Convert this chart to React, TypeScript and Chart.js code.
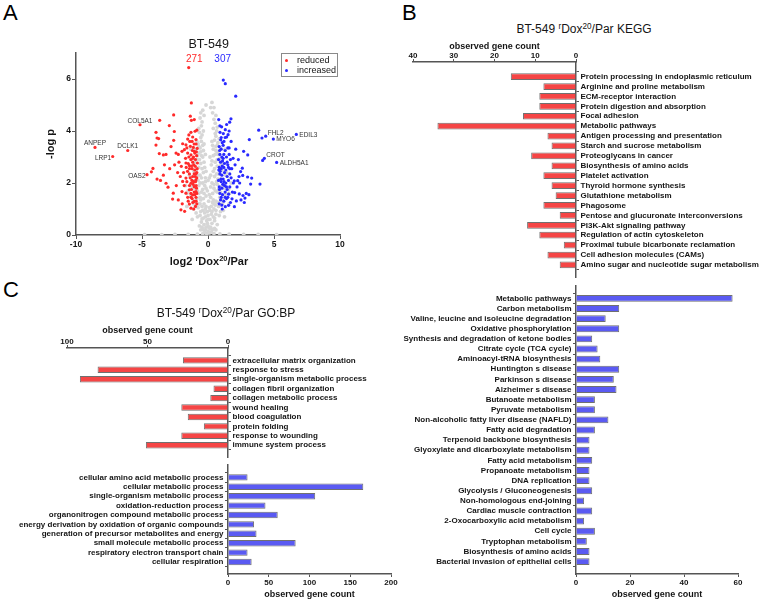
import React, { useEffect, useRef } from "react";
import { Chart, registerables } from "chart.js";

Chart.register(...registerables);

const FONT = "'Liberation Sans', Arial, Helvetica, sans-serif";
const AXIS = "#555555";
const TEXT = "#151515";
const RED = "#ff2a2a";
const BLUE = "#2a2aff";
const BAR_RED = "#f54545";
const BAR_BLUE = "#5a5af2";

// ---------------- Panel A: volcano data ----------------
const REDUCED_COUNT = "271";
const INCREASED_COUNT = "307";
const VOLCANO_X_TICKS = [-10, -5, 0, 5, 10];
const VOLCANO_Y_TICKS = [0, 2, 4, 6];

const REDUCED_POINTS: [number, number][] = [
  [-8.56, 3.37], [-7.22, 3.02], [-6.08, 3.25], [-5.15, 4.24], [-4.62, 2.32],
  [-1.46, 6.44], [-1.26, 5.08], [-2.6, 4.62], [-3.66, 4.41], [-1.26, 4.41], [-1.34, 4.57], [-1.04, 4.44],
  [-2.93, 4.21], [-3.94, 3.95], [-2.55, 3.98], [-1.29, 3.95], [-0.98, 3.99], [-0.85, 4.03], [-3.86, 3.73],
  [-3.74, 3.71], [-2.6, 3.64], [-1.54, 3.69], [-1.16, 3.77], [-0.91, 3.67], [-3.94, 3.46], [-1.92, 3.51],
  [-1.67, 3.47], [-1.34, 3.41], [-1.11, 3.37], [-0.82, 3.33], [-3.69, 3.13], [-3.38, 3.08], [-3.18, 3.1],
  [-2.42, 3.15], [-2.25, 3.1], [-1.97, 3.22], [-1.79, 3.28], [-1.54, 3.15], [-1.29, 3.08], [-1.04, 3.22],
  [-0.86, 3.05], [-2.53, 2.7], [-2.02, 2.64], [-1.67, 2.77], [-1.41, 2.67], [-1.16, 2.8], [-0.96, 2.64],
  [-0.8, 2.77], [-4.17, 2.56], [-4.29, 2.43], [-3.38, 2.3], [-3.86, 2.15], [-3.18, 1.99], [-3.03, 1.84],
  [-2.1, 2.25], [-1.92, 2.06], [-1.67, 2.19], [-1.41, 2.35], [-1.16, 2.25], [-0.91, 2.12], [-1.29, 1.99],
  [-1.04, 1.86], [-1.97, 1.67], [-1.67, 1.61], [-1.41, 1.74], [-1.16, 1.54], [-0.91, 1.67], [-2.63, 1.61],
  [-2.68, 1.38], [-2.05, 0.97], [-1.77, 0.91], [-1.41, 1.19], [-1.29, 1.03], [-1.04, 1.29], [-0.91, 1.45],
  [-1.54, 1.45], [-1.29, 1.45], [-1.0, 2.5], [-0.85, 2.4], [-1.2, 2.55], [-1.1, 3.0], [-0.95, 2.9],
  [-1.3, 2.9], [-1.45, 3.0], [-0.9, 1.9], [-1.1, 2.05], [-1.25, 1.75], [-0.85, 1.6], [-1.05, 1.65],
  [-1.35, 2.2], [-1.55, 2.45], [-1.7, 2.95], [-1.85, 2.4], [-2.2, 2.8], [-2.3, 2.4], [-1.8, 1.9],
  [-2.4, 1.9], [-0.95, 1.1], [-1.15, 1.25], [-1.5, 1.3], [-0.9, 3.5], [-1.2, 3.6], [-1.45, 3.85],
  [-1.0, 3.15], [-0.85, 2.2], [-1.05, 2.35], [-1.25, 2.65], [-0.95, 2.05], [-1.4, 2.55], [-1.6, 2.05],
  [-0.9, 1.3], [-1.2, 1.4], [-2.8, 3.4], [-3.3, 2.7], [-2.9, 2.55], [-3.6, 2.1], [-2.25, 1.35], [-1.95, 1.2],
  [-1.05, 3.5], [-0.88, 3.2], [-1.18, 3.25], [-1.38, 3.6], [-0.82, 2.55], [-0.98, 2.25], [-1.12, 1.95],
  [-0.87, 1.8], [-1.3, 1.6], [-1.0, 1.55], [-1.15, 2.95], [-1.5, 2.75], [-0.92, 2.35], [-1.08, 2.7],
  [-1.22, 2.1], [-1.4, 1.9], [-1.65, 2.6], [-0.85, 1.2], [-1.08, 1.0], [-1.6, 3.35],
];

const INCREASED_POINTS: [number, number][] = [
  [1.16, 5.96], [1.31, 5.82], [2.1, 5.34], [0.81, 4.44], [1.74, 4.47], [1.64, 4.34], [1.41, 4.25],
  [1.03, 4.16], [1.31, 4.05], [0.91, 3.95], [1.16, 3.9], [1.52, 3.86], [1.41, 3.77], [0.96, 3.66],
  [1.21, 3.6], [3.84, 4.03], [4.37, 3.8], [4.09, 3.73], [3.13, 3.67], [6.69, 3.87], [4.95, 3.69],
  [2.7, 3.22], [3.01, 3.08], [4.27, 2.95], [4.14, 2.87], [5.2, 2.79], [2.6, 2.57], [2.47, 2.44],
  [2.35, 2.25], [2.63, 2.29], [3.0, 2.23], [3.31, 2.19], [1.99, 2.08], [2.25, 2.09], [3.23, 1.96],
  [3.94, 1.96], [1.92, 2.0], [1.56, 1.57], [2.02, 1.63], [2.37, 1.58], [2.65, 1.52], [1.82, 1.39],
  [2.15, 1.31], [2.5, 1.35], [2.8, 1.42], [1.31, 1.09], [1.56, 1.14], [2.0, 1.09], [0.85, 3.4],
  [1.0, 3.3], [1.15, 3.45], [1.3, 3.25], [1.5, 3.35], [0.9, 3.1], [1.05, 3.0], [1.2, 3.1], [1.4, 3.0],
  [1.6, 3.1], [0.8, 2.9], [0.95, 2.8], [1.1, 2.85], [1.25, 2.75], [1.45, 2.8], [1.7, 2.9], [1.9, 2.95],
  [0.85, 2.6], [1.0, 2.55], [1.2, 2.6], [1.35, 2.5], [1.55, 2.6], [1.8, 2.55], [2.05, 2.7], [0.9, 2.35],
  [1.05, 2.3], [1.25, 2.4], [1.45, 2.25], [1.65, 2.35], [0.8, 2.1], [1.0, 2.05], [1.15, 2.15],
  [1.35, 2.0], [1.55, 2.1], [1.75, 2.2], [0.85, 1.85], [1.05, 1.8], [1.25, 1.9], [1.45, 1.75],
  [1.65, 1.85], [0.9, 1.6], [1.1, 1.55], [1.3, 1.65], [1.5, 1.45], [0.95, 1.35], [1.2, 1.3], [1.4, 1.4],
  [1.05, 1.15], [2.2, 1.85], [2.4, 2.0], [1.85, 1.65], [2.9, 1.6], [3.1, 1.55], [2.75, 1.25], [1.7, 1.25],
  [2.3, 2.9], [2.1, 3.3], [1.75, 3.6], [1.0, 3.75], [1.6, 4.0],
  [0.88, 3.25], [1.08, 3.55], [0.82, 2.5], [0.98, 2.15], [1.12, 1.95], [0.87, 1.75], [1.3, 1.45],
  [1.0, 1.45], [1.15, 2.95], [1.5, 2.7], [0.92, 2.45], [1.08, 2.65], [1.22, 2.05], [1.4, 1.85],
  [1.65, 2.55], [0.85, 1.2], [1.08, 1.0], [1.6, 3.35], [1.3, 3.75], [0.9, 4.2],
];

const UNCHANGED_POINTS: [number, number][] = [
  [-0.1, 0.05], [0.1, 0.08], [0.0, 0.15], [-0.25, 0.1], [0.25, 0.12], [-0.4, 0.05], [0.45, 0.06],
  [-0.8, 0.03], [0.9, 0.04], [-1.5, 0.02], [1.6, 0.03], [-2.5, 0.02], [2.7, 0.02], [-3.5, 0.01],
  [3.8, 0.02], [-4.8, 0.01], [5.2, 0.01], [0.15, 0.25], [-0.15, 0.3], [-0.3, 0.4], [0.3, 0.45],
  [-0.5, 0.5], [0.5, 0.55], [0.0, 0.35], [-0.1, 0.55], [0.15, 0.6], [-0.65, 0.35], [0.7, 0.4],
  [-0.2, 0.7], [0.25, 0.8], [-0.6, 0.75], [0.6, 0.8], [-0.9, 0.85], [0.95, 0.9], [-0.4, 0.95],
  [0.45, 1.0], [-0.05, 0.9], [0.1, 1.05], [-0.75, 1.05], [0.8, 1.1], [-1.1, 1.0], [1.15, 0.95],
  [-0.3, 1.2], [0.35, 1.25], [-0.55, 1.35], [0.6, 1.3], [-0.85, 1.4], [0.9, 1.45], [-1.1, 1.3],
  [1.1, 1.35], [-0.15, 1.5], [0.2, 1.45], [-1.3, 1.5], [1.3, 1.55], [-0.7, 1.6], [0.7, 1.65],
  [-0.4, 1.75], [0.45, 1.8], [-0.95, 1.8], [1.0, 1.85], [-1.2, 1.9], [1.25, 1.95], [-0.6, 2.0],
  [0.65, 2.05], [-0.25, 1.9], [0.3, 2.0], [-1.5, 1.7], [1.55, 1.75], [-0.5, 2.2], [0.5, 2.25],
  [-0.8, 2.3], [0.85, 2.35], [-1.05, 2.45], [1.05, 2.5], [-0.35, 2.4], [0.4, 2.45], [-0.7, 2.6],
  [0.7, 2.65], [-1.3, 2.2], [1.35, 2.3], [-0.55, 2.75], [0.55, 2.8], [-0.85, 2.9], [0.9, 2.95],
  [-0.4, 3.0], [0.4, 3.05], [-0.7, 3.15], [0.7, 3.2], [-1.1, 2.7], [1.1, 2.75], [-0.6, 3.35],
  [0.6, 3.4], [-0.5, 3.6], [0.5, 3.65], [-0.75, 3.5], [0.75, 3.55], [-0.45, 3.85], [0.55, 3.9],
  [-0.65, 3.95], [0.65, 4.0], [-0.5, 4.2], [0.55, 4.3], [-0.6, 4.5], [0.6, 4.6], [-0.4, 4.8],
  [0.45, 4.9], [0.3, 5.1], [-0.2, 0.2], [0.2, 0.3], [-0.35, 0.65], [0.4, 0.7], [-0.6, 1.2],
  [0.55, 1.15], [-0.9, 1.6], [0.95, 1.65], [-1.0, 2.1], [1.0, 2.15], [-0.25, 2.6], [0.25, 2.7],
  [-0.95, 3.3], [0.95, 3.35], [-0.3, 3.5], [0.35, 3.45], [-0.15, 1.1], [0.05, 1.3], [-0.05, 1.7],
  [0.1, 2.2], [-0.2, 2.05], [0.15, 0.95], [-0.45, 0.3], [0.5, 0.25], [-1.2, 0.6], [1.25, 0.7],
  [-1.6, 1.1], [1.6, 1.2], [-1.7, 1.9], [1.75, 2.0],
  [-0.35, 0.2], [0.35, 0.22], [-0.05, 0.45], [0.05, 0.3], [-0.55, 0.2], [0.6, 0.2], [0.0, 0.6],
  [-0.45, 0.62], [0.5, 0.65], [-0.25, 0.85], [0.3, 0.9], [-0.55, 0.9], [0.6, 0.95], [0.0, 0.75],
  [-0.8, 0.7], [0.85, 0.75], [-0.2, 1.0], [0.25, 1.1], [-0.45, 1.1], [0.45, 1.2], [-0.7, 1.2],
  [0.75, 1.25], [-0.35, 1.4], [0.4, 1.35], [-0.6, 1.45], [0.1, 1.55], [-0.9, 1.1], [0.95, 1.15],
  [-0.3, 1.6], [0.35, 1.6], [-0.5, 1.65], [0.55, 1.7], [-0.8, 1.7], [0.8, 1.75], [-0.15, 1.8],
  [0.2, 1.85], [-0.7, 1.9], [0.7, 1.95], [-0.4, 2.0], [0.45, 1.95], [-0.2, 2.2], [0.2, 2.3],
  [-0.6, 2.3], [0.65, 2.35], [-0.75, 2.1], [0.75, 2.15], [-0.45, 2.55], [0.5, 2.55], [-0.15, 2.45],
  [0.0, 2.1], [-0.9, 2.5], [0.9, 2.6], [-0.3, 2.8], [0.3, 2.85], [-0.65, 2.9], [0.7, 2.9],
  [-0.5, 3.05], [0.55, 3.1], [-0.2, 3.1], [0.15, 3.0], [-0.8, 3.05], [0.8, 3.1], [-0.35, 3.25],
  [0.4, 3.3], [-0.55, 3.2], [0.6, 3.25], [-0.7, 3.4], [0.7, 3.45], [-0.4, 3.45], [0.3, 3.6],
  [-0.85, 3.6], [0.85, 3.7], [-0.55, 3.75], [0.6, 3.8], [-0.35, 4.0], [0.4, 4.1], [-0.7, 4.1],
  [0.7, 4.15], [-0.45, 4.35], [0.45, 4.45], [-0.3, 4.6], [0.35, 4.7], [-0.55, 4.7], [0.2, 4.9],
  [-0.15, 5.0], [-1.2, 1.8], [-1.0, 2.8], [-1.3, 3.3], [-1.1, 1.2], [-1.4, 2.3], [-1.6, 1.6],
  [1.2, 1.8], [1.0, 2.7], [1.3, 3.3], [1.1, 1.2], [1.4, 2.4], [1.6, 1.6],
];

const GENE_NAMES = ["COL5A1", "ANPEP", "DCLK1", "LRP1", "OAS2", "FHL2", "EDIL3", "MYO6", "CROT", "ALDH5A1"];
const GENE_X = [-5.15, -8.56, -6.08, -7.22, -4.62, 4.37, 6.69, 4.95, 4.27, 5.2];
const GENE_Y = [4.24, 3.37, 3.25, 3.02, 2.32, 3.8, 3.87, 3.69, 2.95, 2.79];
// label placement (style only)
const GENE_SIDE = ["above", "above", "above", "left", "left", "rightUp", "right", "right", "rightUp", "right"];

// ---------------- Panel B: KEGG ----------------
const KEGG_DOWN_TERMS = [
  "Protein processing in endoplasmic reticulum", "Arginine and proline metabolism", "ECM-receptor interaction",
  "Protein digestion and absorption", "Focal adhesion", "Metabolic pathways", "Antigen processing and presentation",
  "Starch and sucrose metabolism", "Proteoglycans in cancer", "Biosynthesis of amino acids", "Platelet activation",
  "Thyroid hormone synthesis", "Glutathione metabolism", "Phagosome", "Pentose and glucuronate interconversions",
  "PI3K-Akt signaling pathway", "Regulation of actin cytoskeleton", "Proximal tubule bicarbonate reclamation",
  "Cell adhesion molecules (CAMs)", "Amino sugar and nucleotide sugar metabolism",
];
const KEGG_DOWN_COUNTS = [16, 8, 9, 9, 13, 34, 7, 6, 11, 6, 8, 6, 5, 8, 4, 12, 9, 3, 7, 4];
const KEGG_DOWN_TICKS = [0, 10, 20, 30, 40];

const KEGG_UP_TERMS = [
  "Metabolic pathways", "Carbon metabolism", "Valine, leucine and isoleucine degradation", "Oxidative phosphorylation",
  "Synthesis and degradation of ketone bodies", "Citrate cycle (TCA cycle)", "Aminoacyl-tRNA biosynthesis",
  "Huntington s disease", "Parkinson s disease", "Alzheimer s disease", "Butanoate metabolism", "Pyruvate metabolism",
  "Non-alcoholic fatty liver disease (NAFLD)", "Fatty acid degradation", "Terpenoid backbone biosynthesis",
  "Glyoxylate and dicarboxylate metabolism", "Fatty acid metabolism", "Propanoate metabolism", "DNA replication",
  "Glycolysis / Gluconeogenesis", "Non-homologous end-joining", "Cardiac muscle contraction",
  "2-Oxocarboxylic acid metabolism", "Cell cycle", "Tryptophan metabolism", "Biosynthesis of amino acids",
  "Bacterial invasion of epithelial cells",
];
const KEGG_UP_COUNTS = [58, 16, 11, 16, 6, 8, 9, 16, 14, 15, 7, 7, 12, 7, 5, 5, 6, 5, 5, 6, 3, 6, 3, 7, 4, 5, 5];
const KEGG_UP_TICKS = [0, 20, 40, 60];

// ---------------- Panel C: GO:BP ----------------
const GO_DOWN_TERMS = [
  "extracellular matrix organization", "response to stress", "single-organism metabolic process",
  "collagen fibril organization", "collagen metabolic process", "wound healing", "blood coagulation",
  "protein folding", "response to wounding", "immune system process",
];
const GO_DOWN_COUNTS = [28, 81, 92, 9, 11, 29, 25, 15, 29, 51];
const GO_DOWN_TICKS = [0, 50, 100];

const GO_UP_TERMS = [
  "cellular amino acid metabolic process", "cellular metabolic process", "single-organism metabolic process",
  "oxidation-reduction process", "organonitrogen compound metabolic process",
  "energy derivation by oxidation of organic compounds", "generation of precursor metabolites and energy",
  "small molecule metabolic process", "respiratory electron transport chain", "cellular respiration",
];
const GO_UP_COUNTS = [24, 166, 107, 46, 61, 32, 35, 83, 24, 29];
const GO_UP_TICKS = [0, 50, 100, 150, 200];

const AXIS_TITLE = "observed gene count";

type Box = { l: number; t: number; w: number; h: number };
type Area = { l: number; r: number; t: number; b: number };

function ChartCanvas({ box, make }: { box: Box; make: () => any }) {
  const ref = useRef<HTMLCanvasElement>(null);
  useEffect(() => {
    const chart = new Chart(ref.current as HTMLCanvasElement, make());
    return () => chart.destroy();
  }, []);
  return (
    <canvas
      ref={ref}
      width={box.w}
      height={box.h}
      style={{ position: "absolute", left: box.l, top: box.t, width: box.w, height: box.h }}
    />
  );
}

const tickFont = { family: FONT, size: 8, weight: "bold" as const };

function barConfig(spec: {
  terms: string[]; counts: number[]; ticks: number[]; color: string; reverse: boolean;
  yPos: "left" | "right"; xPos: "top" | "bottom"; box: Box; area: Area; firstCenter: number; lastCenter: number;
}) {
  const { terms, counts, ticks, color, reverse, yPos, xPos, box, area, firstCenter, lastCenter } = spec;
  const n = terms.length;
  const band = (lastCenter - firstCenter) / (n - 1);
  const yMin = -(firstCenter - area.t) / band;
  const yMax = n - 1 + (area.b - lastCenter) / band;
  const yWidth = yPos === "left" ? area.l - box.l : box.l + box.w - area.r;
  const xHeight = xPos === "top" ? area.t - box.t : box.t + box.h - area.b;
  const padding = {
    left: yPos === "left" ? 0 : area.l - box.l,
    right: yPos === "right" ? 0 : box.l + box.w - area.r,
    top: xPos === "top" ? 0 : area.t - box.t,
    bottom: xPos === "bottom" ? 0 : box.t + box.h - area.b,
  };
  return {
    type: "bar",
    data: {
      datasets: [
        {
          data: counts.map((v, i) => ({ x: v, y: i })),
          backgroundColor: color,
          borderColor: "#707070",
          borderWidth: 1,
          barPercentage: 0.68,
          categoryPercentage: 1,
        },
      ],
    },
    options: {
      indexAxis: "y",
      responsive: false,
      animation: false,
      layout: { padding },
      plugins: { legend: { display: false }, tooltip: { enabled: false }, title: { display: false } },
      scales: {
        x: {
          type: "linear",
          position: xPos,
          min: 0,
          max: ticks[ticks.length - 1],
          reverse,
          afterBuildTicks: (s: any) => { s.ticks = ticks.map((v) => ({ value: v })); },
          afterFit: (s: any) => { s.height = xHeight; },
          grid: { drawOnChartArea: false, drawTicks: true, tickLength: 3, color: AXIS, lineWidth: 1 },
          border: { display: true, color: AXIS, width: 1.5 },
          ticks: { font: tickFont, color: TEXT, padding: xPos === "top" ? -2 : 1, maxRotation: 0, autoSkip: false },
          title: {
            display: true,
            text: AXIS_TITLE,
            color: TEXT,
            font: { family: FONT, size: 9, weight: "bold" },
            padding: xPos === "top" ? { top: 3, bottom: 0 } : { top: 0, bottom: 2 },
          },
        },
        y: {
          type: "linear",
          position: yPos,
          min: yMin,
          max: yMax,
          reverse: true,
          afterBuildTicks: (s: any) => { s.ticks = terms.map((_, i) => ({ value: i })); },
          afterFit: (s: any) => { s.width = yWidth; },
          grid: { drawOnChartArea: false, drawTicks: true, tickLength: 3, color: AXIS, lineWidth: 1 },
          border: { display: true, color: AXIS, width: 1.5 },
          ticks: {
            autoSkip: false,
            font: tickFont,
            color: TEXT,
            padding: 1.5,
            callback: (v: number) => (terms[v] !== undefined ? terms[v] : ""),
          },
        },
      },
    },
  };
}

const geneLabelPlugin = {
  id: "geneLabels",
  afterDatasetsDraw(chart: any) {
    const { ctx } = chart;
    const x = chart.scales.x;
    const y = chart.scales.y;
    ctx.save();
    ctx.font = `6.5px ${FONT}`;
    ctx.fillStyle = "#333";
    ctx.textBaseline = "middle";
    GENE_NAMES.forEach((name, i) => {
      const px = x.getPixelForValue(GENE_X[i]);
      const py = y.getPixelForValue(GENE_Y[i]);
      const side = GENE_SIDE[i];
      if (side === "above") {
        ctx.textAlign = "center";
        ctx.fillText(name, px, py - 4);
      } else if (side === "left") {
        ctx.textAlign = "right";
        ctx.fillText(name, px - 1.5, py + 1.5);
      } else if (side === "rightUp") {
        ctx.textAlign = "left";
        ctx.fillText(name, px + 2, py - 3);
      } else {
        ctx.textAlign = "left";
        ctx.fillText(name, px + 3, py + 0.5);
      }
    });
    ctx.restore();
  },
};

function volcanoConfig(box: Box, area: Area) {
  const toXY = (p: [number, number][]) => p.map(([x, y]) => ({ x, y }));
  return {
    type: "scatter",
    data: {
      datasets: [
        { label: "reduced", data: toXY(REDUCED_POINTS), backgroundColor: RED, borderWidth: 0, pointRadius: 1.6 },
        { label: "increased", data: toXY(INCREASED_POINTS), backgroundColor: BLUE, borderWidth: 0, pointRadius: 1.6 },
        { label: "unchanged", data: toXY(UNCHANGED_POINTS), backgroundColor: "#d6d6d6", borderWidth: 0, pointRadius: 1.9 },
      ],
    },
    plugins: [geneLabelPlugin],
    options: {
      responsive: false,
      animation: false,
      layout: { padding: { left: 0, top: area.t - box.t, right: box.l + box.w - area.r, bottom: 0 } },
      plugins: { legend: { display: false }, tooltip: { enabled: false } },
      scales: {
        x: {
          type: "linear",
          min: VOLCANO_X_TICKS[0],
          max: VOLCANO_X_TICKS[VOLCANO_X_TICKS.length - 1],
          afterBuildTicks: (s: any) => { s.ticks = VOLCANO_X_TICKS.map((v) => ({ value: v })); },
          afterFit: (s: any) => { s.height = box.t + box.h - area.b; },
          grid: { drawOnChartArea: false, drawTicks: true, tickLength: 4, color: AXIS },
          border: { display: true, color: AXIS, width: 1.5 },
          ticks: { font: { ...tickFont, size: 8.5 }, color: TEXT, padding: 1, maxRotation: 0, autoSkip: false },
        },
        y: {
          type: "linear",
          min: 0,
          max: 7,
          afterBuildTicks: (s: any) => { s.ticks = VOLCANO_Y_TICKS.map((v) => ({ value: v })); },
          afterFit: (s: any) => { s.width = area.l - box.l; },
          grid: { drawOnChartArea: false, drawTicks: true, tickLength: 4, color: AXIS },
          border: { display: true, color: AXIS, width: 1.5 },
          ticks: { font: { ...tickFont, size: 8.5 }, color: TEXT, padding: 1, autoSkip: false },
          title: {
            display: true,
            text: "-log p",
            color: TEXT,
            font: { family: FONT, size: 11, weight: "bold" },
            padding: { top: 4, bottom: 0 },
          },
        },
      },
    },
  };
}

function Sup({ children }: { children: React.ReactNode }) {
  return (
    <span style={{ fontSize: "0.68em", position: "relative", top: "-0.45em", verticalAlign: "baseline" }}>
      {children}
    </span>
  );
}

function Label({ x, y, size, bold, color, children }: {
  x: number; y: number; size: number; bold?: boolean; color?: string; children: React.ReactNode;
}) {
  return (
    <div
      style={{
        position: "absolute",
        left: x,
        top: y,
        transform: "translate(-50%, -50%)",
        fontFamily: FONT,
        fontSize: size,
        fontWeight: bold ? "bold" : "normal",
        color: color || TEXT,
        lineHeight: 1,
        whiteSpace: "nowrap",
      }}
    >
      {children}
    </div>
  );
}

function PanelLetter({ x, y, text }: { x: number; y: number; text: string }) {
  return (
    <div style={{ position: "absolute", left: x, top: y, fontFamily: FONT, fontSize: 22, lineHeight: 1, color: "#000" }}>
      {text}
    </div>
  );
}

const VOLCANO_BOX: Box = { l: 40, t: 40, w: 320, h: 240 };
const VOLCANO_AREA: Area = { l: 76, r: 340, t: 53, b: 235 };

const KEGG_DOWN_BOX: Box = { l: 390, t: 38, w: 374, h: 250 };
const KEGG_DOWN_AREA: Area = { l: 413, r: 576, t: 62, b: 277 };
const KEGG_UP_BOX: Box = { l: 380, t: 270, w: 384, h: 332 };
const KEGG_UP_AREA: Area = { l: 576, r: 738, t: 286, b: 574 };
const GO_DOWN_BOX: Box = { l: 45, t: 322, w: 345, h: 145 };
const GO_DOWN_AREA: Area = { l: 67, r: 228, t: 348, b: 457 };
const GO_UP_BOX: Box = { l: 0, t: 450, w: 400, h: 152 };
const GO_UP_AREA: Area = { l: 228, r: 391, t: 465, b: 574 };

export default function App() {
  return (
    <div
      style={{
        position: "absolute",
        left: 0,
        top: 0,
        width: 764,
        height: 602,
        overflow: "hidden",
        background: "#fff",
      }}
    >
      <ChartCanvas box={VOLCANO_BOX} make={() => volcanoConfig(VOLCANO_BOX, VOLCANO_AREA)} />
      <ChartCanvas
        box={KEGG_DOWN_BOX}
        make={() =>
          barConfig({
            terms: KEGG_DOWN_TERMS, counts: KEGG_DOWN_COUNTS, ticks: KEGG_DOWN_TICKS, color: BAR_RED, reverse: true,
            yPos: "right", xPos: "top", box: KEGG_DOWN_BOX, area: KEGG_DOWN_AREA, firstCenter: 71.7, lastCenter: 270,
          })
        }
      />
      <ChartCanvas
        box={KEGG_UP_BOX}
        make={() =>
          barConfig({
            terms: KEGG_UP_TERMS, counts: KEGG_UP_COUNTS, ticks: KEGG_UP_TICKS, color: BAR_BLUE, reverse: false,
            yPos: "left", xPos: "bottom", box: KEGG_UP_BOX, area: KEGG_UP_AREA, firstCenter: 293.3, lastCenter: 566.7,
          })
        }
      />
      <ChartCanvas
        box={GO_DOWN_BOX}
        make={() =>
          barConfig({
            terms: GO_DOWN_TERMS, counts: GO_DOWN_COUNTS, ticks: GO_DOWN_TICKS, color: BAR_RED, reverse: true,
            yPos: "right", xPos: "top", box: GO_DOWN_BOX, area: GO_DOWN_AREA, firstCenter: 355.7, lastCenter: 450,
          })
        }
      />
      <ChartCanvas
        box={GO_UP_BOX}
        make={() =>
          barConfig({
            terms: GO_UP_TERMS, counts: GO_UP_COUNTS, ticks: GO_UP_TICKS, color: BAR_BLUE, reverse: false,
            yPos: "left", xPos: "bottom", box: GO_UP_BOX, area: GO_UP_AREA, firstCenter: 472.7, lastCenter: 566.7,
          })
        }
      />

      <PanelLetter x={3} y={2} text="A" />
      <PanelLetter x={402} y={2} text="B" />
      <PanelLetter x={3} y={279} text="C" />

      <Label x={208.7} y={43.5} size={12.5}>BT-549</Label>
      <Label x={194.3} y={59} size={10} color={RED}>{REDUCED_COUNT}</Label>
      <Label x={222.7} y={59} size={10} color={BLUE}>{INCREASED_COUNT}</Label>
      <Label x={209} y={260.5} size={11} bold>
        log2 <Sup>r</Sup>Dox<Sup>20</Sup>/Par
      </Label>

      <div
        style={{
          position: "absolute",
          left: 281,
          top: 53,
          width: 55,
          height: 22,
          border: "1px solid #8a8a8a",
          background: "#fff",
          fontFamily: FONT,
          fontSize: 9,
          lineHeight: 1,
          color: TEXT,
        }}
      >
        <div style={{ position: "absolute", left: 2.5, top: 5, width: 3, height: 3, borderRadius: 2, background: RED }} />
        <div style={{ position: "absolute", left: 15, top: 2 }}>reduced</div>
        <div style={{ position: "absolute", left: 2.5, top: 14.5, width: 3, height: 3, borderRadius: 2, background: BLUE }} />
        <div style={{ position: "absolute", left: 15, top: 11.5 }}>increased</div>
      </div>

      <Label x={584} y={29} size={12}>
        BT-549 <Sup>r</Sup>Dox<Sup>20</Sup>/Par KEGG
      </Label>
      <Label x={226} y={313} size={12}>
        BT-549 <Sup>r</Sup>Dox<Sup>20</Sup>/Par GO:BP
      </Label>
    </div>
  );
}
